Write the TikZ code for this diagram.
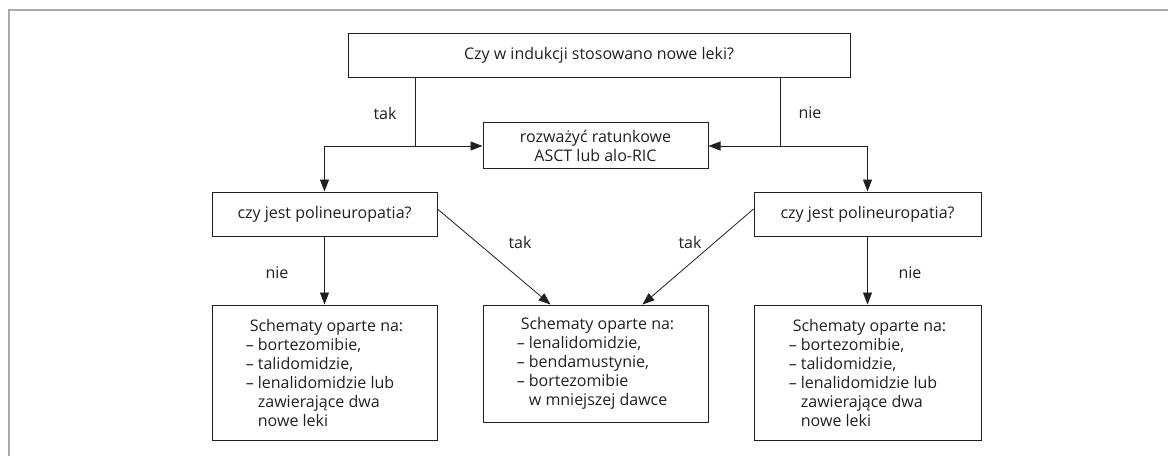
\documentclass[tikz,border=0pt]{standalone}
\usepackage{fontspec}
\setmainfont{Open Sans}
\usetikzlibrary{arrows.meta,calc}
\definecolor{ink}{HTML}{231F20}
\definecolor{framegray}{HTML}{AAAAAA}
\begin{document}
\begin{tikzpicture}[x=1pt,y=-1pt,
  box/.style={draw=ink,line width=1pt,inner sep=0pt,minimum width=#1,font=\fontsize{16}{19}\selectfont,text=ink},
  box/.default=225pt,
  conn/.style={draw=ink,line width=0.8pt},
  arr/.style={conn,-{Triangle[length=12pt,width=9pt]}},
  lab/.style={font=\fontsize{16}{19}\selectfont,text=ink,inner sep=0pt}]
\useasboundingbox (0,0) rectangle (1168,456);
\draw[framegray,line width=1.6pt] (9,456) -- (9,10) -- (1168,10);

\node[box=502pt,minimum height=44pt] (top) at (599,55) {Czy w indukcji stosowano nowe leki?};
\node[box,minimum height=46pt,align=center] (roz) at (595.5,145.5) {rozważyć ratunkowe\\ASCT lub alo-RIC};
\node[box,minimum height=44pt] (lp) at (324.5,214) {czy jest polineuropatia?};
\node[box=227pt,minimum height=44pt] (rp) at (867.5,214) {czy jest polineuropatia?};
\node[box,minimum height=135pt,align=left] (lb) at (324.5,372.5) {\hspace{0.25em}Schematy oparte na:\\– bortezomibie,\\– talidomidzie,\\– lenalidomidzie lub\\\phantom{– }zawierające dwa\\\phantom{– }nowe leki};
\node[box,minimum height=117pt,align=left] (mb) at (595.5,363.5) {\hspace{0.25em}Schematy oparte na:\\– lenalidomidzie,\\– bendamustynie,\\– bortezomibie\\\phantom{– }w mniejszej dawce};
\node[box=227pt,minimum height=135pt,align=left] (rb) at (867.5,372.5) {\hspace{0.25em}Schematy oparte na:\\– bortezomibie,\\– talidomidzie,\\– lenalidomidzie lub\\\phantom{– }zawierające dwa\\\phantom{– }nowe leki};

\coordinate (jl) at (415,146);
\coordinate (jl2) at (324.5,146);
\coordinate (jr) at (780,146);
\coordinate (jr2) at (867.5,146);

\draw[conn] (top.south -| jl) -- (jl);
\draw[arr] (jl2) -- (roz.west |- jl2);
\draw[arr] (jl2) -- (lp.north);
\draw[conn] (top.south -| jr) -- (jr);
\draw[arr] (jr2) -- (roz.east |- jr2);
\draw[arr] (jr2) -- (rp.north);

\draw[arr] (lp.south) -- (lb.north);
\draw[arr] (rp.south) -- (rb.north);
\draw[arr] ([yshift=5pt]lp.east) -- ([xshift=-45pt]mb.north);
\draw[arr] ([yshift=5pt]rp.west) -- ([xshift=47pt]mb.north);

\node[lab] (t1) at (385,113) {tak};
\node[lab] (n1) at (810,113) {nie};
\node[lab] (n2) at (277,273) {nie};
\node[lab] (t2) at (520,242) {tak};
\node[lab] (t3) at (690,242) {tak};
\node[lab] (n3) at (910,273) {nie};
\end{tikzpicture}
\end{document}
